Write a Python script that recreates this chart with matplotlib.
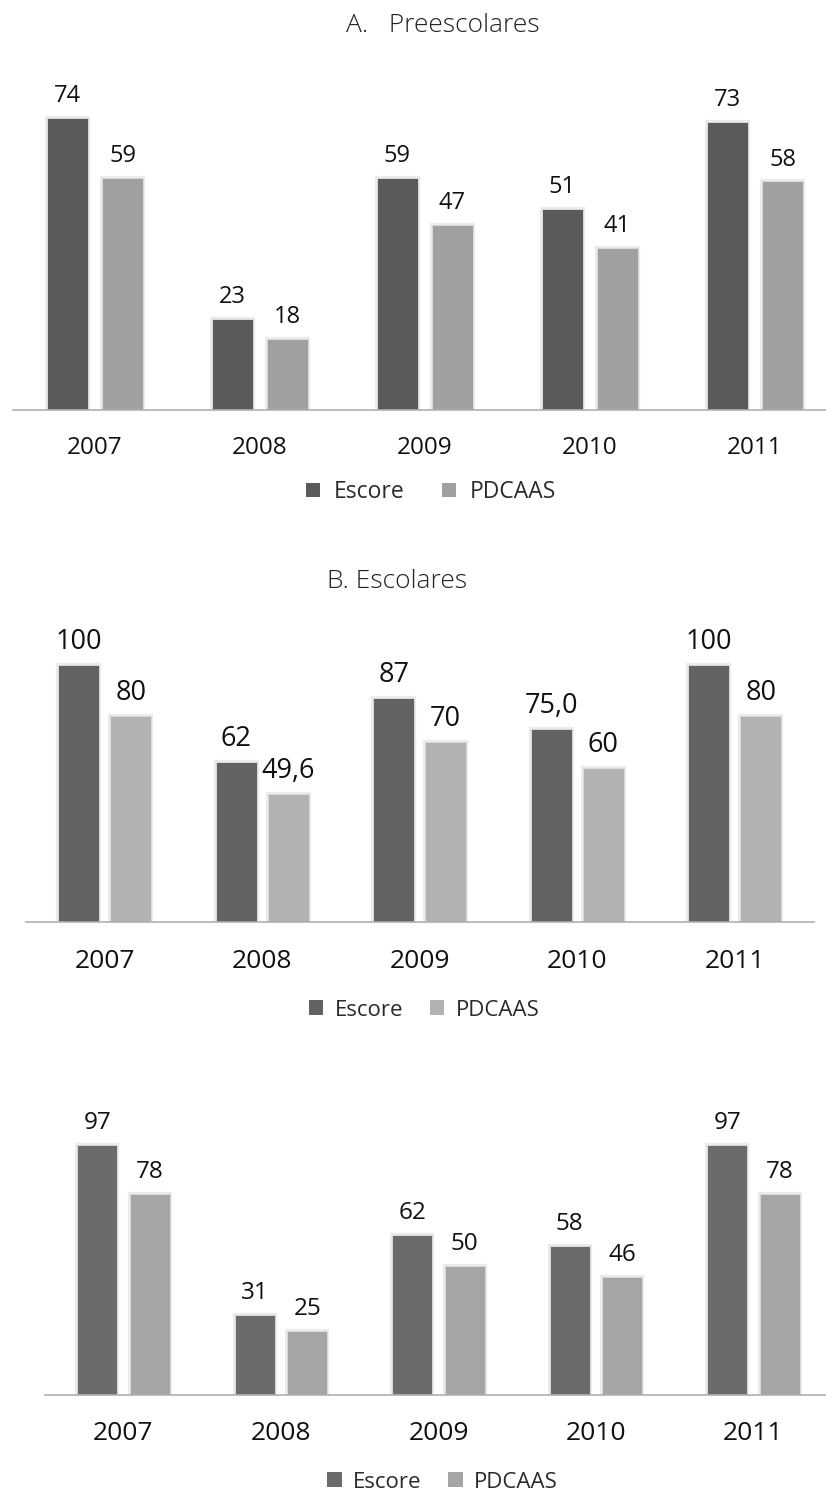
import matplotlib
matplotlib.use("Agg")
import matplotlib.pyplot as plt
import matplotlib.patheffects as pe
from matplotlib.patches import Patch
import numpy as np

# ---- data ---------------------------------------------------------------
years = ["2007", "2008", "2009", "2010", "2011"]
series_names = ["Escore", "PDCAAS"]

pre_escore = [74, 23, 59, 51, 73]
pre_pdcaas = [59, 18, 47, 41, 58]
pre_escore_lbl = ["74", "23", "59", "51", "73"]
pre_pdcaas_lbl = ["59", "18", "47", "41", "58"]

esc_escore = [100, 62, 87, 75.0, 100]
esc_pdcaas = [80, 49.6, 70, 60, 80]
esc_escore_lbl = ["100", "62", "87", "75,0", "100"]
esc_pdcaas_lbl = ["80", "49,6", "70", "60", "80"]

c_escore = [97, 31, 62, 58, 97]
c_pdcaas = [78, 25, 50, 46, 78]
c_escore_lbl = ["97", "31", "62", "58", "97"]
c_pdcaas_lbl = ["78", "25", "50", "46", "78"]

title_a = "A.   Preescolares"
title_b = "B. Escolares"

# ---- figure -------------------------------------------------------------
W, H = 826, 1494
plt.rcParams["font.family"] = ["Open Sans", "DejaVu Sans"]
fig = plt.figure(figsize=(W / 100, H / 100), dpi=100)


def px_axes(x0, x1, y_base, y_top):
    return fig.add_axes([x0 / W, 1 - y_base / H, (x1 - x0) / W, (y_base - y_top) / H])


def panel(ax, v1, v2, l1, l2, c1, c2, off, width, ymax, tick_fs, val_fs, tick_pad):
    x = np.arange(len(years))
    glow = [pe.withStroke(linewidth=3.0, foreground="#ebebeb")]
    for vals, lbls, col, sgn in ((v1, l1, c1, -1), (v2, l2, c2, 1)):
        bars = ax.bar(x + sgn * off, vals, width, color=col,
                      edgecolor="#dadada", linewidth=0.7)
        for b in bars:
            b.set_path_effects(glow)
        for b, v, t in zip(bars, vals, lbls):
            ax.annotate(t, (b.get_x() + b.get_width() / 2, v),
                        xytext=(0, 11.5), textcoords="offset points",
                        ha="center", va="baseline", fontsize=val_fs,
                        color="#111111")
    ax.set_xlim(-0.5, len(years) - 0.5)
    ax.set_ylim(0, ymax)
    ax.set_xticks(x)
    ax.set_xticklabels(years, fontsize=tick_fs, color="#111111")
    ax.tick_params(axis="x", length=0, pad=tick_pad)
    ax.set_yticks([])
    for s in ("top", "left", "right"):
        ax.spines[s].set_visible(False)
    ax.spines["bottom"].set_color("#b0b0b0")
    ax.spines["bottom"].set_linewidth(1.2)
    ax.set_facecolor("none")


def legend(cx, cy, c1, c2, fs, hsize=0.66, tpad=0.5, cspace=1.2):
    handles = [Patch(facecolor=c1, edgecolor="none", label=series_names[0]),
               Patch(facecolor=c2, edgecolor="none", label=series_names[1])]
    fig.legend(handles=handles, loc="center", bbox_to_anchor=(cx / W, 1 - cy / H),
               ncol=2, frameon=False, fontsize=fs, handlelength=hsize,
               handleheight=hsize, handletextpad=tpad, columnspacing=cspace,
               labelcolor="#2a2a2a")


# Panel A
ax_a = px_axes(12.5, 837.5, 410, 410 - 80 * 3.94)
panel(ax_a, pre_escore, pre_pdcaas, pre_escore_lbl, pre_pdcaas_lbl,
      "#5a5a5a", "#a0a0a0", 0.167, 0.25, 80, 17.5, 17, 18.5)
fig.text(442.5 / W, 1 - 32 / H, title_a, ha="center", va="baseline",
         fontsize=19, fontweight="light", color="#222222")
legend(431, 492, "#5a5a5a", "#a0a0a0", 16.5, hsize=0.62, tpad=0.6, cspace=1.6)

# Panel B
ax_b = px_axes(26, 813.5, 922, 922 - 110 * 2.575)
panel(ax_b, esc_escore, esc_pdcaas, esc_escore_lbl, esc_pdcaas_lbl,
      "#626262", "#b2b2b2", 0.165, 0.26, 110, 19, 19.5, 19.5)
fig.text(397.5 / W, 1 - 588 / H, title_b, ha="center", va="baseline",
         fontsize=19, fontweight="light", color="#222222")
legend(424, 1010, "#626262", "#b2b2b2", 16)

# Panel C
ax_c = px_axes(44.75, 832.25, 1395, 1395 - 110 * 2.575)
panel(ax_c, c_escore, c_pdcaas, c_escore_lbl, c_pdcaas_lbl,
      "#6b6b6b", "#a5a5a5", 0.167, 0.254, 110, 19, 17.5, 19)
legend(442.5, 1482, "#6b6b6b", "#a5a5a5", 16)

fig.savefig("out.png", dpi=100, facecolor="white")
